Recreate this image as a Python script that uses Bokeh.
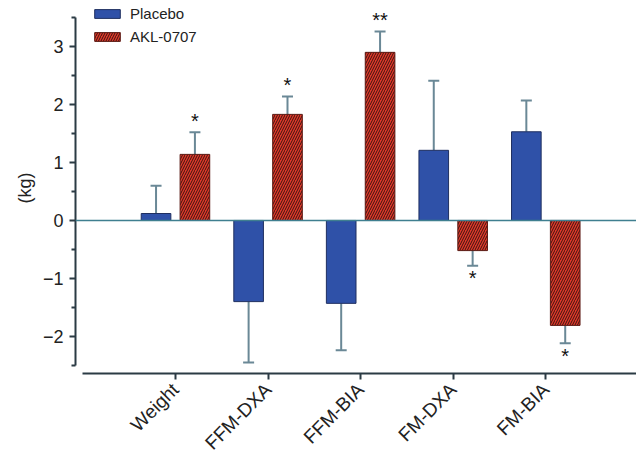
import numpy as np
from bokeh.plotting import figure
from bokeh.models import (ColumnDataSource, FixedTicker, Whisker, TeeHead, Legend, LegendItem, Span)
from bokeh.core.properties import value
from bokeh.embed import file_html
from bokeh.resources import INLINE

categories = ["Weight", "FFM-DXA", "FFM-BIA", "FM-DXA", "FM-BIA"]
placebo = [0.12, -1.40, -1.43, 1.21, 1.53]
placebo_err = [0.48, 1.05, 0.81, 1.20, 0.54]
akl = [1.14, 1.83, 2.90, -0.52, -1.81]
akl_err = [0.38, 0.31, 0.36, 0.26, 0.31]
sig = ["*", "*", "**", "*", "*"]
y_ticks = [-2, -1, 0, 1, 2, 3]
y_minor = [-2.5, -1.5, -0.5, 0.5, 1.5, 2.5, 3.5]

FONT = "Liberation Sans"
BLUE = "#2f51a8"
RED = "#e0392a"
ERR = "#6a8896"

idx = np.arange(len(categories))
off = 0.21
bw = 0.32

def err_end(v, e):
    return [vv + ee if vv >= 0 else vv - ee for vv, ee in zip(v, e)]

src_p = ColumnDataSource(dict(x=idx - off, top=placebo, bottom=[0]*5,
                              end=err_end(placebo, placebo_err)))
src_a = ColumnDataSource(dict(x=idx + off, top=akl, bottom=[0]*5,
                              end=err_end(akl, akl_err)))
star_y = [e + (0.20 if v >= 0 else -0.22) for v, e in zip(akl, err_end(akl, akl_err))]
src_s = ColumnDataSource(dict(x=idx + off, y=star_y, t=sig))

p = figure(frame_width=561, frame_height=371, output_backend="svg", toolbar_location=None,
           x_range=(-1.08, 4.98), y_range=(-2.64, 3.76),
           min_border_left=75, min_border_right=0, min_border_top=2, min_border_bottom=80)
p.background_fill_color = "white"
p.border_fill_color = "white"
p.outline_line_color = None
p.grid.grid_line_color = None

# zero line
p.add_layout(Span(location=0, dimension="width", line_color="#3f7f90", line_width=1.5))

# error bars (drawn under bars)
for src in (src_p, src_a):
    w = Whisker(source=src, base="x", upper="end", lower="top",
                upper_head=TeeHead(size=11, line_color=ERR, line_width=2),
                lower_head=None, line_color=ERR, line_width=2, level="underlay")
    p.add_layout(w)

rp = p.vbar(x="x", top="top", bottom="bottom", width=bw, source=src_p,
            fill_color=BLUE, line_color="#1f2f60", line_width=1)
ra = p.vbar(x="x", top="top", bottom="bottom", width=bw, source=src_a,
            fill_color=RED, line_color="#5a1a14", line_width=1,
            hatch_pattern="/", hatch_color="#3a1410", hatch_scale=5, hatch_weight=1.0)

p.text(x="x", y="y", text="t", source=src_s, text_font=value(FONT),
       text_font_size="20px", text_align="center", text_baseline="middle",
       text_color="#111111")

# axes
p.xaxis.ticker = FixedTicker(ticks=list(idx))
p.xaxis.major_label_overrides = {int(i): c for i, c in zip(idx, categories)}
p.xaxis.major_label_orientation = np.pi / 4
p.xaxis.bounds = (-1.0, 4.98)
p.yaxis.ticker = FixedTicker(ticks=y_ticks, minor_ticks=y_minor)
p.yaxis.bounds = (-2.5, 3.5)
p.yaxis.major_label_overrides = {t: (str(t) if t >= 0 else "\u2212" + str(-t)) for t in y_ticks}
p.yaxis.axis_label = "(kg)"
for ax in (p.xaxis, p.yaxis):
    ax.axis_line_color = "#2b3b44"
    ax.axis_line_width = 2
    ax.major_tick_line_color = "#2b3b44"
    ax.major_tick_line_width = 2
    ax.minor_tick_line_color = "#2b3b44"
    ax.minor_tick_line_width = 2
    ax.major_tick_in = 0
    ax.major_tick_out = 6
    ax.minor_tick_in = 0
    ax.minor_tick_out = 4
    ax.major_label_text_font = FONT
    ax.major_label_text_font_size = "18px"
    ax.major_label_text_color = "#222222"
    ax.axis_label_text_font = FONT
    ax.axis_label_text_font_size = "18px"
    ax.axis_label_text_font_style = "normal"
    ax.axis_label_text_color = "#222222"
p.xaxis.minor_tick_line_color = None
p.xaxis.major_label_text_font_size = "19px"
p.xaxis.major_label_standoff = 7
p.yaxis.major_label_standoff = 6

legend = Legend(items=[LegendItem(label="Placebo", renderers=[rp]),
                       LegendItem(label="AKL-0707", renderers=[ra])],
                location=(16, 328), margin=0, padding=0, spacing=6,
                glyph_width=32, glyph_height=11, label_height=11, label_standoff=7,
                label_text_font=FONT, label_text_font_size="15px",
                label_text_color="#222222",
                background_fill_alpha=0, border_line_color=None)
p.add_layout(legend)

open("out.html", "w").write(file_html(p, INLINE))
